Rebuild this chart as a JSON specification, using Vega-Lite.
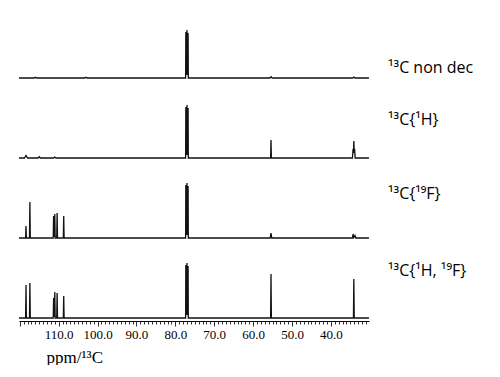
{
  "$schema": "https://vega.github.io/schema/vega-lite/v6.json",
  "padding": {"left": 16, "top": 1, "right": 0, "bottom": 0},
  "background": "white",
  "config": {"view": {"stroke": null}},
  "data": {"values": [
    {"s": "¹³C non dec", "p": 120.2, "i": 0},
    {"s": "¹³C non dec", "p": 116.3, "i": 0},
    {"s": "¹³C non dec", "p": 116.0, "i": 0.8},
    {"s": "¹³C non dec", "p": 115.7, "i": 0},
    {"s": "¹³C non dec", "p": 103.3, "i": 0},
    {"s": "¹³C non dec", "p": 103.0, "i": 0.7},
    {"s": "¹³C non dec", "p": 102.7, "i": 0},
    {"s": "¹³C non dec", "p": 77.35, "i": 0},
    {"s": "¹³C non dec", "p": 77.3, "i": 46},
    {"s": "¹³C non dec", "p": 77.24, "i": 3},
    {"s": "¹³C non dec", "p": 77.15, "i": 44},
    {"s": "¹³C non dec", "p": 77.07, "i": 3},
    {"s": "¹³C non dec", "p": 77.0, "i": 48},
    {"s": "¹³C non dec", "p": 76.93, "i": 3},
    {"s": "¹³C non dec", "p": 76.85, "i": 44},
    {"s": "¹³C non dec", "p": 76.78, "i": 3},
    {"s": "¹³C non dec", "p": 76.72, "i": 45},
    {"s": "¹³C non dec", "p": 76.66, "i": 0},
    {"s": "¹³C non dec", "p": 55.7, "i": 0},
    {"s": "¹³C non dec", "p": 55.4, "i": 1.2},
    {"s": "¹³C non dec", "p": 55.1, "i": 0},
    {"s": "¹³C non dec", "p": 34.4, "i": 0},
    {"s": "¹³C non dec", "p": 34.1, "i": 1.0},
    {"s": "¹³C non dec", "p": 33.8, "i": 0},
    {"s": "¹³C non dec", "p": 30.2, "i": 0},

    {"s": "¹³C{¹H}", "p": 120.2, "i": 0},
    {"s": "¹³C{¹H}", "p": 118.8, "i": 0},
    {"s": "¹³C{¹H}", "p": 118.4, "i": 2.5},
    {"s": "¹³C{¹H}", "p": 118.0, "i": 0},
    {"s": "¹³C{¹H}", "p": 115.3, "i": 0},
    {"s": "¹³C{¹H}", "p": 115.0, "i": 1.2},
    {"s": "¹³C{¹H}", "p": 114.7, "i": 0},
    {"s": "¹³C{¹H}", "p": 111.3, "i": 0},
    {"s": "¹³C{¹H}", "p": 111.0, "i": 0.9},
    {"s": "¹³C{¹H}", "p": 110.7, "i": 0},
    {"s": "¹³C{¹H}", "p": 77.35, "i": 0},
    {"s": "¹³C{¹H}", "p": 77.3, "i": 51},
    {"s": "¹³C{¹H}", "p": 77.24, "i": 3},
    {"s": "¹³C{¹H}", "p": 77.15, "i": 49},
    {"s": "¹³C{¹H}", "p": 77.07, "i": 3},
    {"s": "¹³C{¹H}", "p": 77.0, "i": 53},
    {"s": "¹³C{¹H}", "p": 76.93, "i": 3},
    {"s": "¹³C{¹H}", "p": 76.85, "i": 49},
    {"s": "¹³C{¹H}", "p": 76.78, "i": 3},
    {"s": "¹³C{¹H}", "p": 76.72, "i": 50},
    {"s": "¹³C{¹H}", "p": 76.66, "i": 0},
    {"s": "¹³C{¹H}", "p": 55.5, "i": 0},
    {"s": "¹³C{¹H}", "p": 55.4, "i": 18},
    {"s": "¹³C{¹H}", "p": 55.3, "i": 0},
    {"s": "¹³C{¹H}", "p": 34.45, "i": 0},
    {"s": "¹³C{¹H}", "p": 34.3, "i": 9},
    {"s": "¹³C{¹H}", "p": 34.2, "i": 5},
    {"s": "¹³C{¹H}", "p": 34.1, "i": 17},
    {"s": "¹³C{¹H}", "p": 34.0, "i": 5},
    {"s": "¹³C{¹H}", "p": 33.9, "i": 9},
    {"s": "¹³C{¹H}", "p": 33.75, "i": 0},
    {"s": "¹³C{¹H}", "p": 30.2, "i": 0},

    {"s": "¹³C{¹⁹F}", "p": 120.2, "i": 0},
    {"s": "¹³C{¹⁹F}", "p": 118.5, "i": 0},
    {"s": "¹³C{¹⁹F}", "p": 118.4, "i": 12},
    {"s": "¹³C{¹⁹F}", "p": 118.3, "i": 0},
    {"s": "¹³C{¹⁹F}", "p": 117.5, "i": 0},
    {"s": "¹³C{¹⁹F}", "p": 117.4, "i": 36},
    {"s": "¹³C{¹⁹F}", "p": 117.3, "i": 0},
    {"s": "¹³C{¹⁹F}", "p": 111.4, "i": 0},
    {"s": "¹³C{¹⁹F}", "p": 111.3, "i": 22},
    {"s": "¹³C{¹⁹F}", "p": 111.15, "i": 1},
    {"s": "¹³C{¹⁹F}", "p": 111.0, "i": 24},
    {"s": "¹³C{¹⁹F}", "p": 110.9, "i": 0},
    {"s": "¹³C{¹⁹F}", "p": 110.5, "i": 0},
    {"s": "¹³C{¹⁹F}", "p": 110.4, "i": 25},
    {"s": "¹³C{¹⁹F}", "p": 110.3, "i": 0},
    {"s": "¹³C{¹⁹F}", "p": 108.8, "i": 0},
    {"s": "¹³C{¹⁹F}", "p": 108.7, "i": 22},
    {"s": "¹³C{¹⁹F}", "p": 108.6, "i": 0},
    {"s": "¹³C{¹⁹F}", "p": 77.35, "i": 0},
    {"s": "¹³C{¹⁹F}", "p": 77.3, "i": 53},
    {"s": "¹³C{¹⁹F}", "p": 77.24, "i": 3},
    {"s": "¹³C{¹⁹F}", "p": 77.15, "i": 51},
    {"s": "¹³C{¹⁹F}", "p": 77.07, "i": 3},
    {"s": "¹³C{¹⁹F}", "p": 77.0, "i": 55},
    {"s": "¹³C{¹⁹F}", "p": 76.93, "i": 3},
    {"s": "¹³C{¹⁹F}", "p": 76.85, "i": 51},
    {"s": "¹³C{¹⁹F}", "p": 76.78, "i": 3},
    {"s": "¹³C{¹⁹F}", "p": 76.72, "i": 52},
    {"s": "¹³C{¹⁹F}", "p": 76.66, "i": 0},
    {"s": "¹³C{¹⁹F}", "p": 55.6, "i": 0},
    {"s": "¹³C{¹⁹F}", "p": 55.4, "i": 5},
    {"s": "¹³C{¹⁹F}", "p": 55.2, "i": 0},
    {"s": "¹³C{¹⁹F}", "p": 34.45, "i": 0},
    {"s": "¹³C{¹⁹F}", "p": 34.3, "i": 4},
    {"s": "¹³C{¹⁹F}", "p": 34.1, "i": 0.5},
    {"s": "¹³C{¹⁹F}", "p": 33.8, "i": 2.5},
    {"s": "¹³C{¹⁹F}", "p": 33.6, "i": 0},
    {"s": "¹³C{¹⁹F}", "p": 30.2, "i": 0},

    {"s": "¹³C{¹H, ¹⁹F}", "p": 120.2, "i": 0},
    {"s": "¹³C{¹H, ¹⁹F}", "p": 118.5, "i": 0},
    {"s": "¹³C{¹H, ¹⁹F}", "p": 118.4, "i": 33},
    {"s": "¹³C{¹H, ¹⁹F}", "p": 118.3, "i": 0},
    {"s": "¹³C{¹H, ¹⁹F}", "p": 117.5, "i": 0},
    {"s": "¹³C{¹H, ¹⁹F}", "p": 117.4, "i": 35},
    {"s": "¹³C{¹H, ¹⁹F}", "p": 117.3, "i": 0},
    {"s": "¹³C{¹H, ¹⁹F}", "p": 111.4, "i": 0},
    {"s": "¹³C{¹H, ¹⁹F}", "p": 111.3, "i": 20},
    {"s": "¹³C{¹H, ¹⁹F}", "p": 111.15, "i": 1},
    {"s": "¹³C{¹H, ¹⁹F}", "p": 111.0, "i": 26},
    {"s": "¹³C{¹H, ¹⁹F}", "p": 110.9, "i": 0},
    {"s": "¹³C{¹H, ¹⁹F}", "p": 110.5, "i": 0},
    {"s": "¹³C{¹H, ¹⁹F}", "p": 110.4, "i": 25},
    {"s": "¹³C{¹H, ¹⁹F}", "p": 110.3, "i": 0},
    {"s": "¹³C{¹H, ¹⁹F}", "p": 108.8, "i": 0},
    {"s": "¹³C{¹H, ¹⁹F}", "p": 108.7, "i": 22},
    {"s": "¹³C{¹H, ¹⁹F}", "p": 108.6, "i": 0},
    {"s": "¹³C{¹H, ¹⁹F}", "p": 77.35, "i": 0},
    {"s": "¹³C{¹H, ¹⁹F}", "p": 77.3, "i": 53},
    {"s": "¹³C{¹H, ¹⁹F}", "p": 77.24, "i": 3},
    {"s": "¹³C{¹H, ¹⁹F}", "p": 77.15, "i": 51},
    {"s": "¹³C{¹H, ¹⁹F}", "p": 77.07, "i": 3},
    {"s": "¹³C{¹H, ¹⁹F}", "p": 77.0, "i": 55},
    {"s": "¹³C{¹H, ¹⁹F}", "p": 76.93, "i": 3},
    {"s": "¹³C{¹H, ¹⁹F}", "p": 76.85, "i": 51},
    {"s": "¹³C{¹H, ¹⁹F}", "p": 76.78, "i": 3},
    {"s": "¹³C{¹H, ¹⁹F}", "p": 76.72, "i": 52},
    {"s": "¹³C{¹H, ¹⁹F}", "p": 76.66, "i": 0},
    {"s": "¹³C{¹H, ¹⁹F}", "p": 55.5, "i": 0},
    {"s": "¹³C{¹H, ¹⁹F}", "p": 55.4, "i": 44},
    {"s": "¹³C{¹H, ¹⁹F}", "p": 55.3, "i": 0},
    {"s": "¹³C{¹H, ¹⁹F}", "p": 34.2, "i": 0},
    {"s": "¹³C{¹H, ¹⁹F}", "p": 34.1, "i": 39},
    {"s": "¹³C{¹H, ¹⁹F}", "p": 34.0, "i": 0},
    {"s": "¹³C{¹H, ¹⁹F}", "p": 30.2, "i": 0}
  ]},
  "facet": {
    "row": {
      "field": "s",
      "type": "nominal",
      "sort": ["¹³C non dec", "¹³C{¹H}", "¹³C{¹⁹F}", "¹³C{¹H, ¹⁹F}"],
      "header": null
    }
  },
  "spacing": {"row": 0},
  "spec": {
    "width": 350,
    "height": 79,
    "encoding": {
      "x": {
        "field": "p",
        "type": "quantitative",
        "scale": {"domain": [30.2, 120.2], "reverse": true, "nice": false, "zero": false},
        "axis": {
          "title": "ppm/¹³C",
          "titleFont": "Liberation Serif",
          "titleFontSize": 17,
          "titleFontWeight": "normal",
          "titleColor": "#000000",
          "titleAnchor": "start",
          "titleAlign": "left",
          "titleBaseline": "alphabetic",
          "titleX": 27,
          "titleY": 41,
          "tickCount": 90,
          "labelOverlap": false,
          "labelFlush": false,
          "labelExpr": "datum.value % 10 == 0 && datum.value < 115 && datum.value > 35 ? format(datum.value, '.1f') : ''",
          "labelFont": "Liberation Serif",
          "labelFontSize": 13,
          "labelColor": "#000000",
          "labelPadding": 2,
          "domainColor": "#000000",
          "tickColor": "#333333",
          "tickSize": {"condition": {"test": "datum.value % 10 == 0", "value": 5}, "value": 3},
          "grid": false
        }
      },
      "y": {
        "field": "i",
        "type": "quantitative",
        "scale": {"domain": [-2, 77], "nice": false, "zero": false},
        "axis": null
      }
    },
    "layer": [
      {
        "mark": {"type": "line", "color": "#111111", "strokeWidth": 1.3, "interpolate": "linear"}
      },
      {
        "transform": [{"filter": "datum.p == 30.2"}],
        "mark": {
          "type": "text",
          "align": "left",
          "baseline": "middle",
          "font": "Open Sans",
          "fontSize": 16,
          "color": "#000000",
          "clip": false,
          "dx": 19,
          "dy": {"expr": "datum.s == '¹³C non dec' ? 31 : datum.s == '¹³C{¹H}' ? 3 : datum.s == '¹³C{¹⁹F}' ? -3 : -6"}
        },
        "encoding": {
          "y": {"datum": 41},
          "text": {"field": "s"}
        }
      }
    ]
  }
}
